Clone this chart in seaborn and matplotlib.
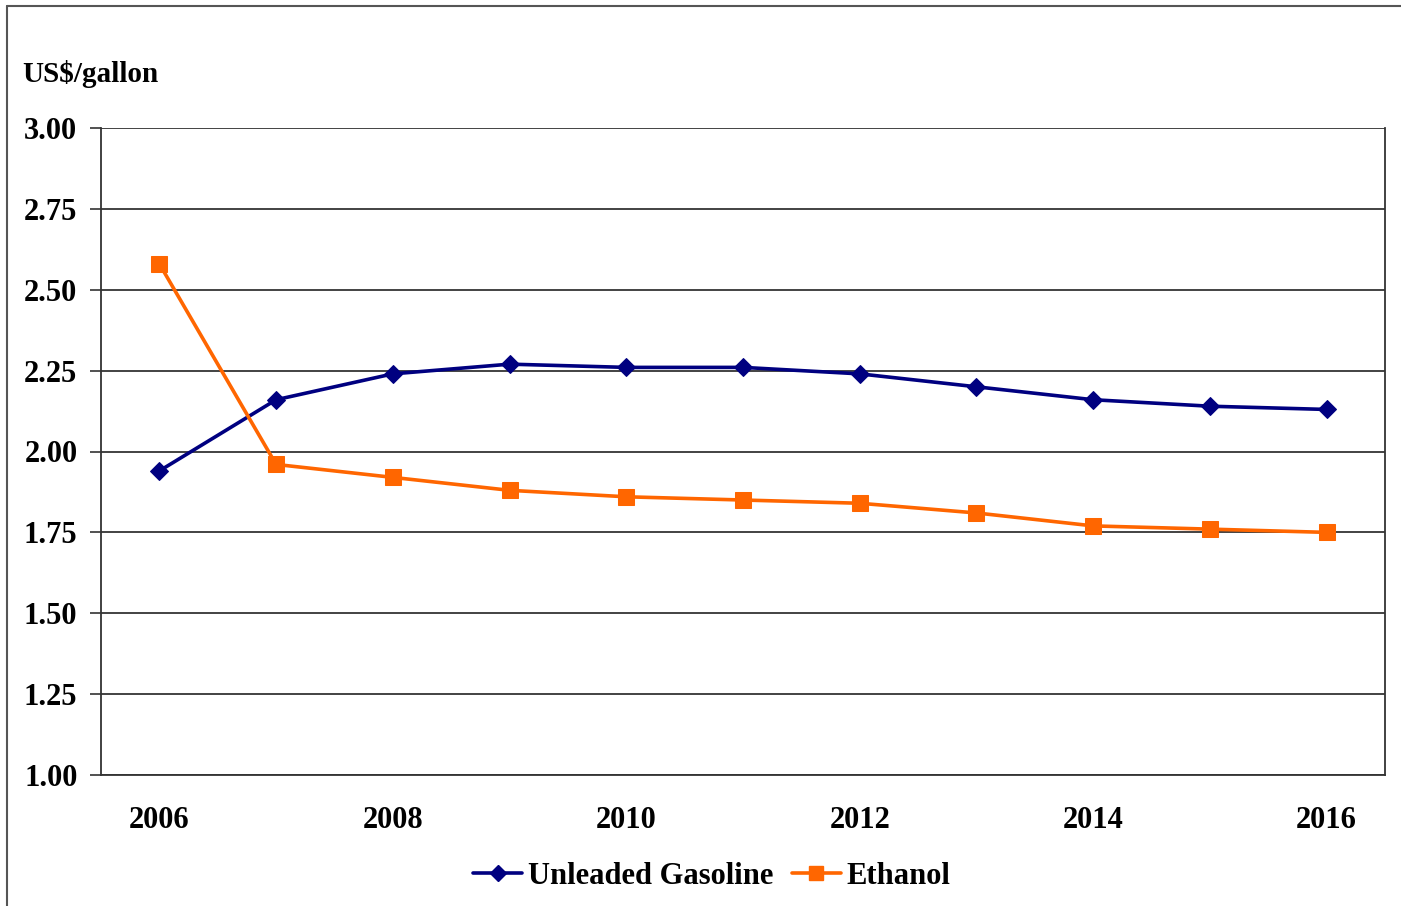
import matplotlib
matplotlib.use("Agg")
import matplotlib.pyplot as plt
from matplotlib.lines import Line2D
import seaborn as sns
import pandas as pd
import numpy as np

# Price projections, US$/gallon
years = [2006, 2007, 2008, 2009, 2010, 2011, 2012, 2013, 2014, 2015, 2016]
gasoline = [1.94, 2.16, 2.24, 2.27, 2.26, 2.26, 2.24, 2.20, 2.16, 2.14, 2.13]
ethanol = [2.58, 1.96, 1.92, 1.88, 1.86, 1.85, 1.84, 1.81, 1.77, 1.76, 1.75]
series_names = ["Unleaded Gasoline", "Ethanol"]
y_ticks = [1.00, 1.25, 1.50, 1.75, 2.00, 2.25, 2.50, 2.75, 3.00]
x_labels = ["2006", "2008", "2010", "2012", "2014", "2016"]

sns.set_theme(style="white")
plt.rcParams["font.family"] = ["Liberation Serif", "DejaVu Serif"]
plt.rcParams["font.weight"] = "bold"
plt.rcParams["text.color"] = "black"
plt.rcParams["xtick.color"] = "black"
plt.rcParams["ytick.color"] = "black"

df = pd.DataFrame({
    "idx": list(range(len(years))) * 2,
    "price": gasoline + ethanol,
    "series": [series_names[0]] * len(years) + [series_names[1]] * len(years),
})

colors = {series_names[0]: "#000080", series_names[1]: "#FF6600"}
markers = {series_names[0]: "D", series_names[1]: "s"}
msizes = {series_names[0]: 9.5, series_names[1]: 11.5}

fig = plt.figure(figsize=(14.01, 9.06), dpi=100)
ax = fig.add_axes([101 / 1401, 1 - 775 / 906, (1385 - 101) / 1401, (775 - 128) / 906])

for name in series_names:
    sub = df[df["series"] == name]
    sns.lineplot(data=sub, x="idx", y="price", ax=ax, color=colors[name],
                 marker=markers[name], markersize=msizes[name],
                 markeredgecolor=colors[name], linewidth=2.6, legend=False)

ax.set_xlim(-0.5, len(years) - 0.5)
ax.set_ylim(1.0, 3.0)
ax.set_yticks(y_ticks)
ax.set_yticklabels([f"{v:.2f}" for v in y_ticks], fontsize=22, fontweight="bold")
ax.yaxis.grid(True, color="#222222", linewidth=1.2)
ax.xaxis.grid(False)

# year labels on every other category, tick marks at category boundaries
label_pos = [years.index(int(s)) for s in x_labels]
ax.set_xticks(label_pos)
ax.set_xticklabels(x_labels, fontsize=22, fontweight="bold")
ax.set_xticks(np.arange(-0.5, len(years), 1.0), minor=True)
ax.tick_params(axis="x", which="major", length=0, pad=22)
ax.tick_params(axis="x", which="minor", length=8, width=1.2, color="#333333", direction="out")
ax.tick_params(axis="y", which="major", length=8, width=1.2, color="#333333",
               direction="out", left=True, pad=9)
ax.set_xlabel("")
ax.set_ylabel("")

for side in ["left", "bottom", "right"]:
    ax.spines[side].set_visible(True)
    ax.spines[side].set_color("#333333")
    ax.spines[side].set_linewidth(1.3)
ax.spines["top"].set_visible(False)

fig.text(22 / 1401, 1 - 74 / 906, "US$/gallon", fontsize=21, fontweight="bold",
         ha="left", va="center")

handles = [Line2D([0], [0], color=colors[n], marker=markers[n], markersize=msizes[n] * 0.9,
                  linewidth=2.6) for n in series_names]
fig.legend(handles, series_names, loc="center", bbox_to_anchor=(712 / 1401, 1 - 876 / 906),
           ncol=2, frameon=False, handlelength=1.6, handletextpad=0.2, columnspacing=0.6,
           prop={"family": "Liberation Serif", "weight": "bold", "size": 22})

# outer chart frame
fig.add_artist(Line2D([7 / 1401, 1.0], [1 - 6 / 906, 1 - 6 / 906], transform=fig.transFigure,
                      color="#555555", linewidth=1.5))
fig.add_artist(Line2D([7 / 1401, 7 / 1401], [0.0, 1 - 6 / 906], transform=fig.transFigure,
                      color="#555555", linewidth=1.5))

fig.savefig("out.png", dpi=100)
